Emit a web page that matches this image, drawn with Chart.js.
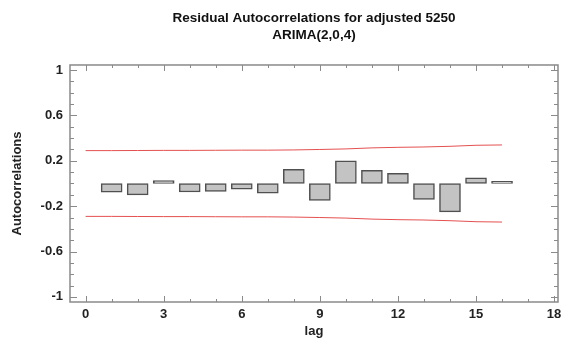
<!DOCTYPE html>
<html>
<head>
<meta charset="utf-8">
<script src="https://cdn.jsdelivr.net/npm/chart.js@4"></script>
<style>
  html, body { margin: 0; padding: 0; background: #fff; }
  #wrap { width: 564px; height: 341px; }
</style>
</head>
<body>
<div id="wrap"><canvas id="acfChart" width="564" height="341"></canvas></div>
<script>
// residual autocorrelations, lags 1..16
const lags = [1, 2, 3, 4, 5, 6, 7, 8, 9, 10, 11, 12, 13, 14, 15, 16];
const acfValues = [-0.077, -0.10, 0.025, -0.075, -0.07, -0.05, -0.085, 0.125,
                   -0.15, 0.20, 0.115, 0.09, -0.14, -0.25, 0.05, 0.02];

// 95% probability limits
const limitLags = [0, 1, 2, 3, 4, 5, 6, 7, 8, 9, 10, 11, 12, 13, 14, 15, 16];
const upperLimit = [0.290, 0.290, 0.291, 0.292, 0.292, 0.293, 0.294, 0.294, 0.296,
                    0.300, 0.305, 0.314, 0.319, 0.322, 0.328, 0.337, 0.340];
const lowerLimit = [-0.290, -0.290, -0.291, -0.292, -0.292, -0.293, -0.294, -0.294, -0.296,
                    -0.300, -0.305, -0.314, -0.319, -0.322, -0.328, -0.337, -0.340];

// axis tick labels
const xTicks = [0, 3, 6, 9, 12, 15, 18];
const yTicks = [-1, -0.6, -0.2, 0.2, 0.6, 1];

const fontFamily = "'Liberation Sans', Arial, sans-serif";
const labelFont = { family: fontFamily, size: 13, weight: 'bold' };

// inward tick marks + frame, like the original plot
const framePlugin = {
  id: 'frame',
  afterDraw(chart) {
    const { ctx, chartArea: a, scales: { x, y } } = chart;
    ctx.save();
    ctx.strokeStyle = '#8a8a8a';
    ctx.lineWidth = 1;
    ctx.beginPath();
    // x ticks: minor every 1, major at labels
    for (let v = 0; v <= 18; v++) {
      const px = Math.round(x.getPixelForValue(v)) + 0.5;
      const len = xTicks.includes(v) ? 6 : 3;
      ctx.moveTo(px, a.bottom); ctx.lineTo(px, a.bottom - len);
      ctx.moveTo(px, a.top); ctx.lineTo(px, a.top + len);
    }
    // y ticks: minor every 0.1
    for (let i = -10; i <= 10; i++) {
      const v = i / 10;
      const py = Math.round(y.getPixelForValue(v)) + 0.5;
      const len = yTicks.some(t => Math.abs(t - v) < 1e-6) ? 7 : 4;
      ctx.moveTo(a.left, py); ctx.lineTo(a.left + len, py);
      ctx.moveTo(a.right, py); ctx.lineTo(a.right - len, py);
    }
    ctx.stroke();
    ctx.lineWidth = 1.5;
    ctx.strokeRect(a.left, a.top, a.right - a.left, a.bottom - a.top);
    ctx.restore();
  }
};

new Chart('acfChart', {
  type: 'bar',
  data: {
    datasets: [
      {
        type: 'line',
        data: limitLags.map((l, i) => ({ x: l, y: upperLimit[i] })),
        borderColor: 'rgb(228,80,80)',
        borderWidth: 1,
        pointRadius: 0,
        tension: 0
      },
      {
        type: 'line',
        data: limitLags.map((l, i) => ({ x: l, y: lowerLimit[i] })),
        borderColor: 'rgb(228,80,80)',
        borderWidth: 1,
        pointRadius: 0,
        tension: 0
      },
      {
        type: 'bar',
        data: lags.map((l, i) => ({ x: l, y: acfValues[i] })),
        backgroundColor: '#c3c3c3',
        borderColor: '#505050',
        borderWidth: 1.5,
        borderSkipped: false,
        barThickness: 21
      }
    ]
  },
  options: {
    responsive: false,
    animation: false,
    layout: { padding: { left: 0, right: 6, top: 0, bottom: 0 } },
    plugins: {
      legend: { display: false },
      tooltip: { enabled: false },
      title: {
        display: true,
        fullSize: false,
        text: ['Residual Autocorrelations for adjusted 5250', 'ARIMA(2,0,4)'],
        color: '#111',
        font: { family: fontFamily, size: 13.5, weight: 'bold', lineHeight: 1.296 },
        padding: { top: 9.25, bottom: 20.75 }
      }
    },
    scales: {
      x: {
        type: 'linear',
        offset: false,
        min: -0.6,
        max: 18.15,
        grid: { display: false, drawTicks: false, offset: false },
        border: { display: false },
        afterBuildTicks: s => { s.ticks = xTicks.map(v => ({ value: v })); },
        afterFit: s => { s.height = 39; s.paddingLeft = 0; s.paddingRight = 0; },
        ticks: {
          padding: 5,
          color: '#222',
          font: labelFont,
          maxRotation: 0,
          callback: v => String(v)
        },
        title: {
          display: true,
          text: 'lag',
          color: '#222',
          font: labelFont,
          padding: { top: 0, bottom: 2 }
        }
      },
      y: {
        min: -1.045,
        max: 1.045,
        grid: { display: false, drawTicks: false },
        border: { display: false },
        afterBuildTicks: s => { s.ticks = yTicks.map(v => ({ value: v })); },
        afterFit: s => { s.width = 70; s.paddingTop = 0; s.paddingBottom = 0; },
        ticks: {
          padding: 7,
          color: '#222',
          font: labelFont,
          callback: v => String(Math.round(v * 10) / 10)
        },
        title: {
          display: true,
          text: 'Autocorrelations',
          color: '#222',
          font: labelFont,
          padding: { top: 10, bottom: 0 }
        }
      }
    }
  },
  plugins: [framePlugin]
});
</script>
</body>
</html>
